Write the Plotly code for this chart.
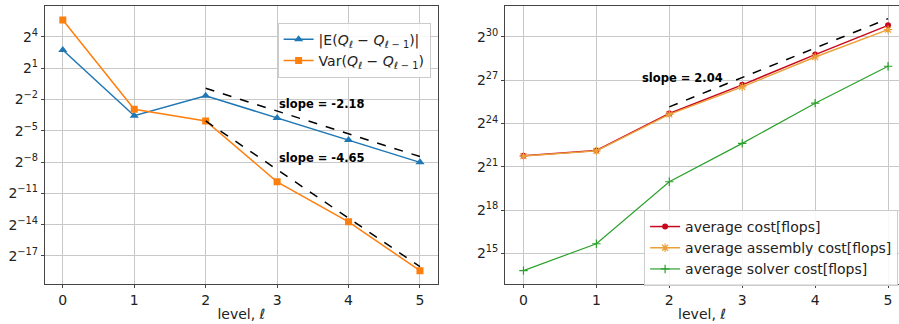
import math
import plotly.graph_objects as go

# ---------------- data ----------------
levels = [0, 1, 2, 3, 4, 5]

mean_diff = [6.63, 0.0842, 0.319, 0.0723, 0.0169, 0.00382]          # |E(Q_l - Q_{l-1})|
var_diff = [48.5, 0.129, 0.0595, 0.00105, 7.4e-5, 2.87e-6]          # Var(Q_l - Q_{l-1})

avg_cost = [3.55e6, 4.59e6, 2.707e7, 1.075e8, 4.61e8, 1.882e9]
avg_assembly = [3.50e6, 4.50e6, 2.597e7, 9.76e7, 4.10e8, 1.529e9]
avg_solver = [1.426e4, 5.18e4, 1.02e6, 6.45e6, 4.46e7, 2.63e8]

# reference slope lines (start value at level 2, slope in log2)
slope_mean, start_mean = -2.18, 0.521
slope_var, start_var = -4.65, 0.0595
slope_cost, start_cost = 2.04, 3.73e7
fit_levels = [2, 3, 4, 5]

left_exps = [4, 1, -2, -5, -8, -11, -14, -17]
right_exps = [30, 27, 24, 21, 18, 15]

FONT = "DejaVu Sans"
FS = 14
L2 = math.log10(2)


def fit_line(start, slope):
    return [start * 2 ** (slope * (x - 2)) for x in fit_levels]


fig = go.Figure()

# ---------------- left panel ----------------
fig.add_trace(go.Scatter(x=levels, y=mean_diff, mode="lines+markers",
                         name="|E(<i>Q</i><sub><i>ℓ</i></sub> − <i>Q</i><sub><i>ℓ</i> − 1</sub>)|",
                         line=dict(color="#1f77b4", width=1.5),
                         marker=dict(symbol="triangle-up", size=8, color="#1f77b4"),
                         xaxis="x", yaxis="y", legend="legend"))
fig.add_trace(go.Scatter(x=levels, y=var_diff, mode="lines+markers",
                         name="Var(<i>Q</i><sub><i>ℓ</i></sub> − <i>Q</i><sub><i>ℓ</i> − 1</sub>)",
                         line=dict(color="#ff7f0e", width=1.5),
                         marker=dict(symbol="square", size=7, color="#ff7f0e"),
                         xaxis="x", yaxis="y", legend="legend"))
fig.add_trace(go.Scatter(x=fit_levels, y=fit_line(start_mean, slope_mean), mode="lines",
                         line=dict(color="black", width=1.5, dash="dash"), showlegend=False,
                         xaxis="x", yaxis="y"))
fig.add_trace(go.Scatter(x=fit_levels, y=fit_line(start_var, slope_var), mode="lines",
                         line=dict(color="black", width=1.5, dash="dash"), showlegend=False,
                         xaxis="x", yaxis="y"))

# ---------------- right panel ----------------
fig.add_trace(go.Scatter(x=levels, y=avg_cost, mode="lines+markers",
                         name="average cost[flops]",
                         line=dict(color="#c8081e", width=1.5),
                         marker=dict(symbol="circle", size=6, color="#c8081e"),
                         xaxis="x2", yaxis="y2", legend="legend2"))
fig.add_trace(go.Scatter(x=levels, y=avg_assembly, mode="lines+markers",
                         name="average assembly cost[flops]",
                         line=dict(color="#eba13a", width=1.5),
                         marker=dict(symbol="asterisk-open", size=7, color="#eba13a",
                                     line=dict(color="#eba13a", width=1.2)),
                         xaxis="x2", yaxis="y2", legend="legend2"))
fig.add_trace(go.Scatter(x=levels, y=avg_solver, mode="lines+markers",
                         name="average solver cost[flops]",
                         line=dict(color="#2ca02c", width=1.2),
                         marker=dict(symbol="cross-thin-open", size=6, color="#2ca02c",
                                     line=dict(color="#2ca02c", width=1.2)),
                         xaxis="x2", yaxis="y2", legend="legend2"))
fig.add_trace(go.Scatter(x=fit_levels, y=fit_line(start_cost, slope_cost), mode="lines",
                         line=dict(color="black", width=1.5, dash="dash"), showlegend=False,
                         xaxis="x2", yaxis="y2"))

GRID = "#c8c8c8"
axis_common = dict(showgrid=True, gridcolor=GRID, gridwidth=1, zeroline=False,
                   showline=True, linecolor="#444", linewidth=1.2,
                   ticks="outside", ticklen=3, tickcolor="#444",
                   tickfont=dict(family=FONT, size=FS, color="#222"))

fig.update_layout(
    width=899, height=324,
    margin=dict(l=0, r=0, t=0, b=0),
    paper_bgcolor="white", plot_bgcolor="white",
    font=dict(family=FONT, size=FS, color="#222"),
    xaxis=dict(domain=[0.050, 0.487], range=[-0.25, 5.25], tickvals=levels,
               mirror=True, anchor="y",
               title=dict(text="level, <i>ℓ</i>", standoff=2,
                          font=dict(family=FONT, size=FS, color="#222")),
               **axis_common),
    yaxis=dict(domain=[0.1235, 0.9815], type="log", range=[-19.68 * L2, 6.94 * L2],
               tickvals=[2.0 ** e for e in left_exps],
               ticktext=[f"2<sup>{e}</sup>".replace("-", "−") for e in left_exps],
               mirror=True, anchor="x", **axis_common),
    xaxis2=dict(domain=[0.562, 1.0], range=[-0.25, 5.15], tickvals=levels,
                mirror=True, anchor="y2",
                title=dict(text="level, <i>ℓ</i>", standoff=2,
                           font=dict(family=FONT, size=FS, color="#222")),
                **axis_common),
    yaxis2=dict(domain=[0.1235, 0.9815], type="log", range=[12.87 * L2, 32.15 * L2],
                tickvals=[2.0 ** e for e in right_exps],
                ticktext=[f"2<sup>{e}</sup>" for e in right_exps],
                anchor="x2", **axis_common),
    legend=dict(x=0.479, y=0.93, xanchor="right", yanchor="top",
                bgcolor="rgba(255,255,255,0.85)", bordercolor="#ccc", borderwidth=1,
                font=dict(family=FONT, size=FS, color="#222"), itemwidth=30,
                tracegroupgap=2),
    legend2=dict(x=0.999, y=0.352, xanchor="right", yanchor="top",
                 bgcolor="rgba(255,255,255,0.85)", bordercolor="#ccc", borderwidth=1,
                 font=dict(family=FONT, size=FS, color="#222"), itemwidth=30,
                 tracegroupgap=0),
    showlegend=True,
)

ann_font = dict(family=FONT, size=11.5, color="black")
fig.add_annotation(x=3, y=-2.42 * L2, xref="x", yref="y", text="<b>slope = %.2f</b>" % slope_mean,
                   showarrow=False, xanchor="left", yanchor="middle", font=ann_font)
fig.add_annotation(x=3, y=-7.62 * L2, xref="x", yref="y", text="<b>slope = %.2f</b>" % slope_var,
                   showarrow=False, xanchor="left", yanchor="middle", font=ann_font)
fig.add_annotation(x=1.6, y=27.19 * L2, xref="x2", yref="y2", text="<b>slope = %.2f</b>" % slope_cost,
                   showarrow=False, xanchor="left", yanchor="middle", font=ann_font)

fig.write_html("out.html")
